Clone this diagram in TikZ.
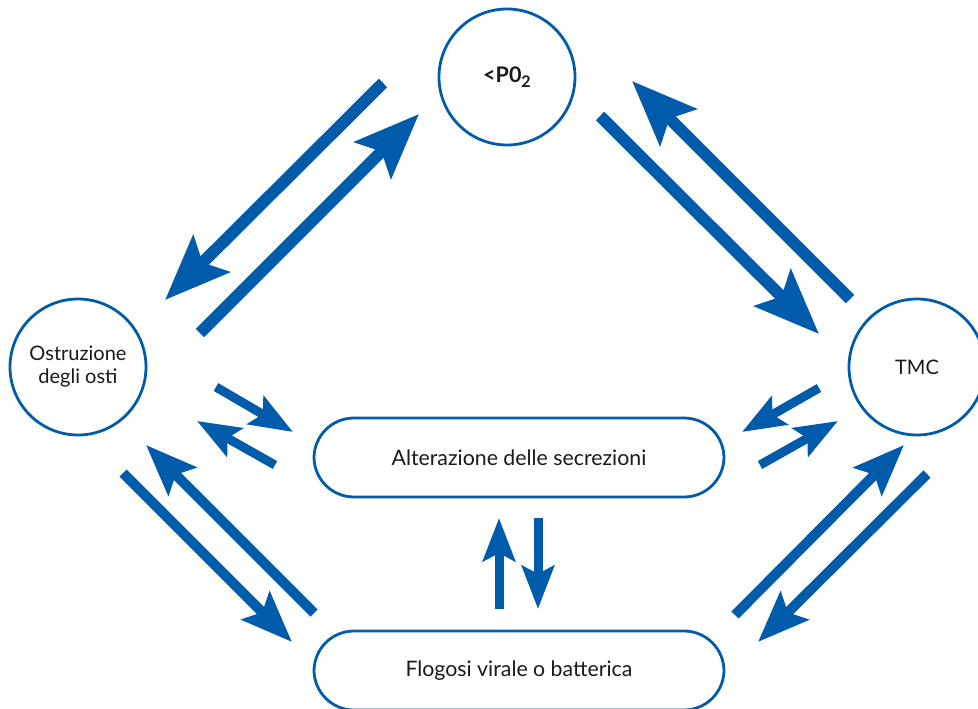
\documentclass[tikz,border=0pt]{standalone}
\usepackage{fontspec}
\setmainfont{Lato}
\usetikzlibrary{arrows.meta}
\definecolor{cblue}{RGB}{0,92,170}
\definecolor{ctext}{RGB}{25,25,25}
\begin{document}
\begin{tikzpicture}[x=1pt,y=-1pt,
  circ/.style={circle, draw=cblue, line width=2.8pt, minimum size=136pt, inner sep=0pt, text=ctext, align=center, font=\fontsize{20}{23}\selectfont},
  pill/.style={rectangle, rounded corners=40pt, draw=cblue, line width=2.8pt, minimum width=410pt, minimum height=79pt, inner sep=0pt, text=ctext, font=\fontsize{21.3}{24}\selectfont},
  bigarrow/.style={draw=cblue, line width=12pt, -{Stealth[length=65pt,width=51pt,inset=12pt]}},
  midarrow/.style={draw=cblue, line width=10pt, -{Stealth[length=51pt,width=39pt,inset=9pt]}},
  smallarrow/.style={draw=cblue, line width=9pt, -{Stealth[length=43pt,width=32pt,inset=8pt]}}]
\clip (0,0) rectangle (978,709);
% nodes
\node[circ] (po2) at (507,77) {\fontsize{21.5}{24}\selectfont\textbf{<P0\raisebox{-0.4ex}{\fontsize{16}{16}\selectfont 2}}};
\node[circ] (ostr) at (78,367) {Ostruzione\\degli osti};
\node[circ] (tmc) at (917,367) {TMC};
\node[pill] (alt) at (519,457.5) {Alterazione delle secrezioni};
\node[pill] (flog) at (519,670.5) {Flogosi virale o batterica};
% arrow end points
\coordinate (tla) at (383,83);  \coordinate (tlb) at (165,300);
\coordinate (tlc) at (200,333); \coordinate (tld) at (419,114);
\coordinate (tra) at (600,116); \coordinate (trb) at (819,334);
\coordinate (trc) at (850,299); \coordinate (trd) at (632,81);
\coordinate (mla) at (216,387); \coordinate (mlb) at (293,432);
\coordinate (mlc) at (275,465); \coordinate (mld) at (197,421);
\coordinate (mra) at (819,388); \coordinate (mrb) at (742,432);
\coordinate (mrc) at (760,465); \coordinate (mrd) at (838,421);
\coordinate (bla) at (123,473); \coordinate (blb) at (292,642);
\coordinate (blc) at (314,613); \coordinate (bld) at (146,445);
\coordinate (bra) at (735,615); \coordinate (brb) at (904,445);
\coordinate (brc) at (927,474); \coordinate (brd) at (758,642);
\coordinate (va) at (499,609);  \coordinate (vb) at (499,518);
\coordinate (vc) at (538,518);  \coordinate (vd) at (538,609);
% arrows
\draw[bigarrow] (tla) -- (tlb);
\draw[bigarrow] (tlc) -- (tld);
\draw[bigarrow] (tra) -- (trb);
\draw[bigarrow] (trc) -- (trd);
\draw[smallarrow] (mla) -- (mlb);
\draw[smallarrow] (mlc) -- (mld);
\draw[smallarrow] (mra) -- (mrb);
\draw[smallarrow] (mrc) -- (mrd);
\draw[midarrow] (bla) -- (blb);
\draw[midarrow] (blc) -- (bld);
\draw[midarrow] (bra) -- (brb);
\draw[midarrow] (brc) -- (brd);
\draw[smallarrow] (va) -- (vb);
\draw[smallarrow] (vc) -- (vd);
\end{tikzpicture}
\end{document}
